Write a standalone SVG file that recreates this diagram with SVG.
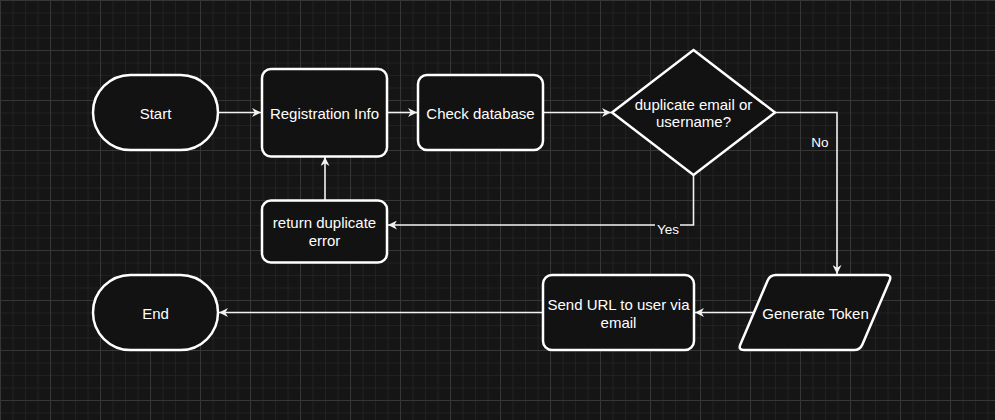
<svg xmlns="http://www.w3.org/2000/svg" width="995" height="420" viewBox="0 0 995 420">
  <style>
    .node { fill: #121212; stroke: #ffffff; stroke-width: 2.5; }
    .lbl { font-family: "Liberation Sans", Arial, sans-serif; font-size: 15px; fill: #ffffff; text-anchor: middle; }
    .elbl { font-family: "Liberation Sans", Arial, sans-serif; font-size: 13.5px; fill: #ffffff; text-anchor: middle; }
    .edge { fill: none; stroke: #f2f2f2; stroke-width: 1.6; marker-end: url(#arrow); }
  </style>
  <defs>
    <pattern id="minor" width="12.5" height="12.5" patternUnits="userSpaceOnUse">
      <path d="M0.5,0 V12.5 M0,0.5 H12.5" stroke="#222222" stroke-width="1" fill="none"/>
    </pattern>
    <pattern id="major" width="50" height="50" patternUnits="userSpaceOnUse">
      <rect width="50" height="50" fill="url(#minor)"/>
      <path d="M0.5,0 V50 M0,0.5 H50" stroke="#363636" stroke-width="1" fill="none"/>
    </pattern>
    <marker id="arrow" viewBox="0 0 10 10" refX="10" refY="5" markerWidth="10" markerHeight="9" markerUnits="userSpaceOnUse" orient="auto">
      <path d="M0,0 L10,5 L0,10 L3,5 Z" fill="#f2f2f2"/>
    </marker>
  </defs>

  <rect width="995" height="420" fill="#151515"/>
  <rect width="995" height="420" fill="url(#major)"/>

  <g id="connectors">
    <path class="edge" d="M218,112.5 H261"/>
    <path class="edge" d="M387,112.5 H417"/>
    <path class="edge" d="M543,112.5 H611"/>
    <path class="edge" d="M775,112.5 H837 V274"/>
    <path class="edge" d="M693.5,175 V225 H388"/>
    <path class="edge" d="M325,200 V157"/>
    <path class="edge" d="M754,312.5 H695"/>
    <path class="edge" d="M543,312.5 H219"/>
    <rect x="655" y="221" width="25" height="16" fill="#151515"/>
    <text class="elbl" x="668" y="233.5">Yes</text>
    <text class="elbl" x="820" y="146.5">No</text>
  </g>

  <g id="start">
    <rect class="node" x="93" y="75" width="125" height="75" rx="37.5" ry="37.5"/>
    <text class="lbl" x="155.5" y="118.5">Start</text>
  </g>
  <g id="registration">
    <rect class="node" x="262" y="69" width="125" height="87.5" rx="9"/>
    <text class="lbl" x="324.5" y="118.5">Registration Info</text>
  </g>
  <g id="check">
    <rect class="node" x="418" y="75" width="125" height="75" rx="9"/>
    <text class="lbl" x="480.5" y="118.5">Check database</text>
  </g>
  <g id="decision">
    <path class="node" d="M693.5,50 L775,112.5 L693.5,175 L612,112.5 Z"/>
    <text class="lbl" x="693.5" y="110">duplicate email or</text>
    <text class="lbl" x="693.5" y="127">username?</text>
  </g>
  <g id="duperror">
    <rect class="node" x="262" y="200.5" width="125" height="62" rx="9"/>
    <text class="lbl" x="324.5" y="228">return duplicate</text>
    <text class="lbl" x="324.5" y="245.5">error</text>
  </g>
  <g id="token">
    <path class="node" d="M776,275 L886,275 Q892,275 889.64,280.52 L862.36,344.48 Q860,350 854,350 L744,350 Q738,350 740.36,344.48 L767.64,280.52 Q770,275 776,275 Z"/>
    <text class="lbl" x="815.5" y="318.5">Generate Token</text>
  </g>
  <g id="sendurl">
    <rect class="node" x="543" y="275" width="151" height="75" rx="9"/>
    <text class="lbl" x="618.5" y="310">Send URL to user via</text>
    <text class="lbl" x="618.5" y="327.5">email</text>
  </g>
  <g id="end">
    <rect class="node" x="93" y="275" width="125" height="75" rx="37.5" ry="37.5"/>
    <text class="lbl" x="155.5" y="318.5">End</text>
  </g>
</svg>
